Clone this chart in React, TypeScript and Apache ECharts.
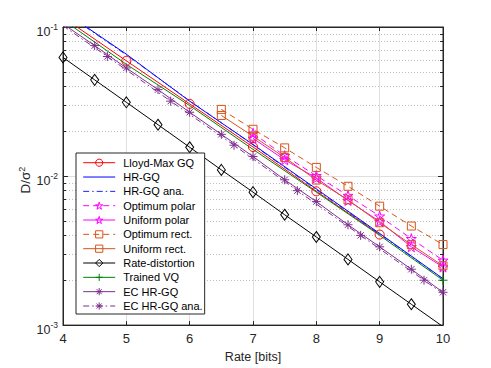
import React, { useEffect, useRef } from 'react';
import * as echarts from 'echarts';

// ---------- data ----------
const rdRates = [4, 4.5, 5, 5.5, 6, 6.5, 7, 7.5, 8, 8.5, 9, 9.5, 10];
const rdValues = [0.0625, 0.0442, 0.03125, 0.0221, 0.0156, 0.011, 0.0078, 0.0055, 0.0039, 0.00276, 0.00195, 0.00138, 0.000977];

const lmRates = [4, 5, 6, 7, 8, 9];
const lmValues = [0.116, 0.0593, 0.0305, 0.01567, 0.0079, 0.00405];

const hrRates = [4, 5, 6, 7, 8, 9, 10];
const hrValues = [0.128, 0.0657, 0.0318, 0.0163, 0.0082, 0.00412, 0.00205];
const hrAnaValues = [0.127, 0.065, 0.032, 0.0162, 0.0081, 0.00408, 0.00204];

const vqRates = [4, 5, 6, 7, 8, 9, 10];
const vqValues = [0.1117, 0.0562, 0.0297, 0.0151, 0.0078, 0.004, 0.002];
const vqMarks = [10];

const polarRates = [7, 7.5, 8, 8.5, 9, 9.5, 10];
const optPolarValues = [0.01936, 0.0137, 0.01005, 0.0074, 0.00538, 0.0038, 0.00272];
const uniPolarValues = [0.0179, 0.01285, 0.0097, 0.00685, 0.00496, 0.00335, 0.00245];

const rectRates = [6.5, 7, 7.5, 8, 8.5, 9, 9.5, 10];
const optRectValues = [0.028, 0.0206, 0.01545, 0.01143, 0.00854, 0.00628, 0.00462, 0.00347];
const uniRectValues = [0.0255, 0.0185, 0.01333, 0.0094, 0.00692, 0.00486, 0.00347, 0.0025];

const ecRates = [4, 4.5, 5, 5.5, 6, 6.5, 7, 7.5, 8, 8.5, 9, 9.5, 10];
const ecValues = [0.105, 0.075, 0.0531, 0.038, 0.0268, 0.01905, 0.01353, 0.00944, 0.00674, 0.00471, 0.00335, 0.00237, 0.00166];

const ecAnaRates = [4, 4.7, 5.7, 6.7, 7.7, 8.7, 9.7, 10];
const ecAnaValues = [0.102, 0.0634, 0.0318, 0.0161, 0.00798, 0.004, 0.002, 0.00163];
const ecAnaMarks = [4.7, 5.7, 6.7, 7.7, 8.7, 9.7];

const xTicks = [4, 5, 6, 7, 8, 9, 10];
const minorTicks = [0.002, 0.003, 0.004, 0.005, 0.006, 0.007, 0.008, 0.009, 0.02, 0.03, 0.04, 0.05, 0.06, 0.07, 0.08, 0.09];

const legendNames = [
  'Lloyd-Max GQ', 'HR-GQ', 'HR-GQ ana.', 'Optimum polar', 'Uniform polar',
  'Optimum rect.', 'Uniform rect.', 'Rate-distortion', 'Trained VQ', 'EC HR-GQ', 'EC HR-GQ ana.'
];
const noMarkerInLegend = ['HR-GQ', 'HR-GQ ana.'];

// ---------- styles ----------
const AX = '#262626';
const STAR = 'path://M0,-1L0.2234,-0.3074L0.9511,-0.309L0.3614,0.1174L0.5878,0.809L0,0.38L-0.5878,0.809L-0.3614,0.1174L-0.9511,-0.309L-0.2234,-0.3074Z';
const ASTER = 'path://M0,-1L0,1M-1,0L1,0M-0.7,-0.7L0.7,0.7M-0.7,0.7L0.7,-0.7';
const PLUS = 'path://M0,-1L0,1M-1,0L1,0';
const DASH = [6, 4];
const DASHDOT = [6, 3, 1.5, 3];
const FONT = 'Liberation Sans, Arial, Helvetica, sans-serif';

function pts(rates: number[], vals: number[], marks?: number[]) {
  return rates.map((r, i) => {
    const item: any = { value: [r, vals[i]] };
    if (marks && !marks.includes(r)) item.symbol = 'none';
    return item;
  });
}

function lineSeries(name: string, data: any[], color: string, type: any, symbol: string, size: any) {
  return {
    type: 'line',
    name,
    data,
    symbol,
    symbolSize: size,
    showSymbol: true,
    clip: true,
    z: 3,
    lineStyle: { color, width: 1, type },
    itemStyle: { color: 'rgba(255,255,255,0)', borderColor: color, borderWidth: 1 },
    emphasis: { disabled: true },
  };
}

export default function App() {
  const ref = useRef<HTMLDivElement>(null);

  useEffect(() => {
    if (!ref.current) return;
    const chart = echarts.init(ref.current, undefined, { renderer: 'svg' });

    const yLabelRich = {
      b: { fontSize: 12.5, color: AX, fontFamily: FONT, padding: [9, 0, 0, 0] },
      s: { fontSize: 8.5, color: AX, fontFamily: FONT },
    };

    const option: any = {
      animation: false,
      backgroundColor: '#ffffff',
      grid: { left: 63, right: 48, top: 27, bottom: 41, show: true, borderColor: AX, borderWidth: 1, backgroundColor: 'transparent' },
      legend: {
        data: legendNames.map((n) => (noMarkerInLegend.includes(n) ? { name: n, itemStyle: { opacity: 0 } } : { name: n })),
        orient: 'vertical',
        left: 76,
        top: 153,
        itemWidth: 32,
        itemHeight: 9,
        itemGap: 2.33,
        padding: [3.7, 2, 2, 6.7],
        backgroundColor: '#ffffff',
        borderColor: AX,
        borderWidth: 1,
        borderRadius: 0,
        selectedMode: false,
        itemStyle: { borderWidth: 1 },
        lineStyle: { width: 1 },
        textStyle: { fontSize: 11, fontFamily: FONT, color: '#000', lineHeight: 12, padding: [0, 0, 0, 3] },
        z: 10,
      },
      xAxis: [
        {
          type: 'value', min: 4, max: 10, interval: 1, position: 'bottom',
          name: 'Rate [bits]', nameLocation: 'middle', nameGap: 23,
          nameTextStyle: { fontSize: 12.5, fontFamily: FONT, color: AX },
          axisLine: { show: true, lineStyle: { color: AX, width: 1 } },
          axisTick: { show: true, inside: true, length: 4, lineStyle: { color: AX } },
          axisLabel: { fontSize: 13, fontFamily: FONT, color: AX, margin: 7, formatter: (v: number) => (xTicks.includes(v) ? String(v) : '') },
          splitLine: { show: true, lineStyle: { color: '#dfdfdf', width: 1 } },
        },
        {
          type: 'value', min: 4, max: 10, interval: 1, position: 'top',
          axisLine: { show: true, lineStyle: { color: AX, width: 1 } },
          axisTick: { show: true, inside: true, length: 4, lineStyle: { color: AX } },
          axisLabel: { show: false },
          splitLine: { show: false },
        },
      ],
      yAxis: [
        {
          type: 'log', logBase: 10, min: 0.001, max: 0.1, position: 'left',
          name: '{a|D/σ}{s|2}', nameLocation: 'middle', nameGap: 31, nameRotate: 90,
          nameMoveOverlap: false,
          nameTextStyle: {
            rich: {
              a: { fontSize: 13.5, fontFamily: FONT, color: AX, padding: [6, 0, 0, 0] },
              s: { fontSize: 9, fontFamily: FONT, color: AX, padding: [0, 8, 0, 0] },
            },
          },
          axisLine: { show: true, lineStyle: { color: AX, width: 1 } },
          axisTick: { show: true, inside: true, length: 5, lineStyle: { color: AX } },
          axisLabel: {
            margin: 5,
            formatter: (v: number) => `{b|10}{s|${Math.round(Math.log10(v))}}`,
            rich: yLabelRich,
          },
          splitLine: { show: true, lineStyle: { color: '#dfdfdf', width: 1 } },
        },
        {
          type: 'log', logBase: 10, min: 0.001, max: 0.1, position: 'right',
          axisLine: { show: true, lineStyle: { color: AX, width: 1 } },
          axisTick: { show: true, inside: true, length: 5, lineStyle: { color: AX } },
          axisLabel: { show: false },
          splitLine: { show: false },
        },
      ],
      series: [
        {
          type: 'custom',
          name: 'minorGrid',
          silent: true,
          z: 1,
          clip: false,
          data: minorTicks.map((v) => [4, v]),
          renderItem: (params: any, api: any) => {
            const pt = api.coord([4, api.value(1)]);
            const cs = params.coordSys;
            const y = Math.round(pt[1]) + 0.5;
            return {
              type: 'group',
              children: [
                { type: 'line', shape: { x1: cs.x, y1: y, x2: cs.x + cs.width, y2: y }, style: { stroke: '#bdbdbd', lineWidth: 1, lineDash: [1, 2] } },
                { type: 'line', shape: { x1: cs.x, y1: y, x2: cs.x + 3, y2: y }, style: { stroke: AX, lineWidth: 1 } },
                { type: 'line', shape: { x1: cs.x + cs.width - 3, y1: y, x2: cs.x + cs.width, y2: y }, style: { stroke: AX, lineWidth: 1 } },
              ],
            };
          },
        },
        lineSeries('Lloyd-Max GQ', pts(lmRates, lmValues), '#FF0000', 'solid', 'circle', 9),
        lineSeries('HR-GQ', pts(hrRates, hrValues, []), '#0000FF', 'solid', 'none', 1),
        lineSeries('HR-GQ ana.', pts(hrRates, hrAnaValues, []), '#2020FF', DASHDOT, 'none', 1),
        lineSeries('Optimum polar', pts(polarRates, optPolarValues), '#FF00FF', DASH, STAR, 10),
        lineSeries('Uniform polar', pts(polarRates, uniPolarValues), '#FF00FF', 'solid', STAR, 10),
        lineSeries('Optimum rect.', pts(rectRates, optRectValues), '#D95319', DASH, 'rect', 8),
        lineSeries('Uniform rect.', pts(rectRates, uniRectValues), '#D95319', 'solid', 'rect', 8),
        lineSeries('Rate-distortion', pts(rdRates, rdValues), '#000000', 'solid', 'diamond', [8, 11]),
        lineSeries('Trained VQ', pts(vqRates, vqValues, vqMarks), '#008000', 'solid', PLUS, 9),
        lineSeries('EC HR-GQ', pts(ecRates, ecValues), '#7E2F8E', 'solid', ASTER, 9),
        lineSeries('EC HR-GQ ana.', pts(ecAnaRates, ecAnaValues, ecAnaMarks), '#7E2F8E', DASHDOT, ASTER, 9),
      ],
    };

    chart.setOption(option);
    return () => chart.dispose();
  }, []);

  return <div ref={ref} style={{ position: 'fixed', left: 0, top: 0, width: 491, height: 368, background: '#fff' }} />;
}
